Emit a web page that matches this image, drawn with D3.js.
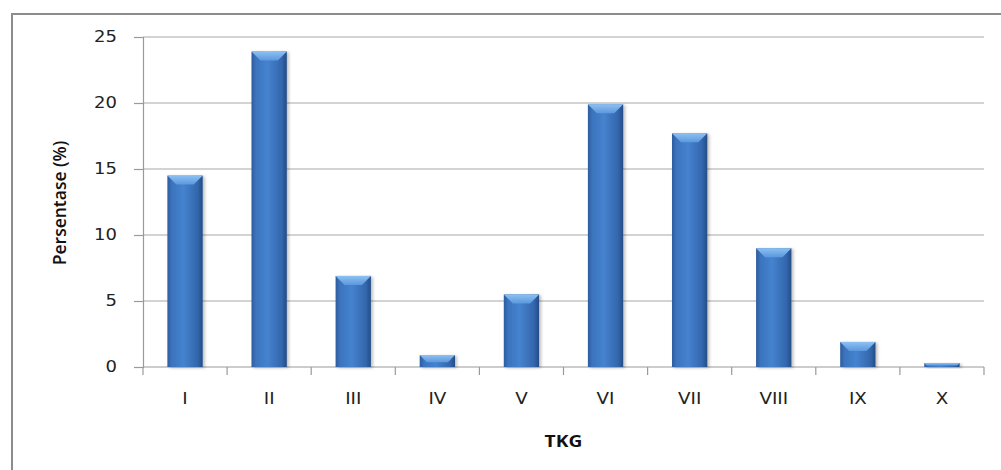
<!DOCTYPE html>
<html>
<head>
<meta charset="utf-8">
<script src="https://cdn.jsdelivr.net/npm/d3@7"></script>
<style>
  body { margin: 0; background: #fff; }
  svg { display: block; }
</style>
</head>
<body>
<script>
// data
var categories = ["I", "II", "III", "IV", "V", "VI", "VII", "VIII", "IX", "X"];
var values = [14.5, 23.9, 6.9, 0.9, 5.5, 19.9, 17.7, 9.0, 1.9, 0.3];
var yTicks = [0, 5, 10, 15, 20, 25];

var width = 1001, height = 470;
var plotLeft = 143, plotRight = 984, plotTop = 37, plotBottom = 367;

var svg = d3.select("body").append("svg")
    .attr("width", width)
    .attr("height", height);

var defs = svg.append("defs");
var grad = defs.append("linearGradient").attr("id", "barGrad")
    .attr("x1", "0%").attr("x2", "100%").attr("y1", "0%").attr("y2", "0%");
grad.append("stop").attr("offset", "0%").attr("stop-color", "#2c5c9e");
grad.append("stop").attr("offset", "12%").attr("stop-color", "#3b73bd");
grad.append("stop").attr("offset", "45%").attr("stop-color", "#4583cf");
grad.append("stop").attr("offset", "85%").attr("stop-color", "#3467ad");
grad.append("stop").attr("offset", "100%").attr("stop-color", "#234d86");

var bevel = defs.append("linearGradient").attr("id", "bevelGrad")
    .attr("x1", "0%").attr("x2", "0%").attr("y1", "0%").attr("y2", "100%");
bevel.append("stop").attr("offset", "0%").attr("stop-color", "#8ec0f2");
bevel.append("stop").attr("offset", "100%").attr("stop-color", "#5a98de");

var shadow = defs.append("filter").attr("id", "shadow")
    .attr("x", "-20%").attr("y", "-20%").attr("width", "150%").attr("height", "150%");
shadow.append("feDropShadow").attr("dx", 2).attr("dy", 1)
    .attr("stdDeviation", 1.5).attr("flood-color", "#000").attr("flood-opacity", 0.25);

// outer frame (only left and top edges are visible)
svg.append("rect")
    .attr("x", 12).attr("y", 14)
    .attr("width", 1100).attr("height", 600)
    .attr("fill", "none")
    .attr("stroke", "#8c8c8c")
    .attr("stroke-width", 2);

var x = d3.scaleBand().domain(categories).range([plotLeft, plotRight]).padding(0);
var y = d3.scaleLinear().domain([0, 25]).range([plotBottom, plotTop]);

// gridlines
svg.append("g").selectAll("line").data(yTicks.filter(function (d) { return d > 0; }))
  .join("line")
    .attr("x1", plotLeft).attr("x2", plotRight)
    .attr("y1", function (d) { return y(d); })
    .attr("y2", function (d) { return y(d); })
    .attr("stroke", "#a8a8a8")
    .attr("stroke-width", 1.2);

// y axis
var yAxis = d3.axisLeft(y).tickValues(yTicks).tickSize(9).tickPadding(17);
var gy = svg.append("g").attr("transform", "translate(" + plotLeft + ",0)").call(yAxis);
gy.select(".domain").attr("stroke", "#9a9a9a").attr("stroke-width", 1.2);
gy.selectAll(".tick line").attr("stroke", "#9a9a9a").attr("stroke-width", 1.2);
gy.selectAll(".tick text")
    .attr("font-family", "DejaVu Sans")
    .attr("font-size", 15)
    .attr("fill", "#222")
    .attr("text-anchor", "end")
    .attr("x", 0)
    .attr("transform", "translate(-26,0) scale(1.2,1)");

// x axis labels
var xAxis = d3.axisBottom(x).tickSize(0).tickPadding(26);
var gx = svg.append("g").attr("transform", "translate(0," + plotBottom + ")").call(xAxis);
gx.select(".domain").remove();
gx.selectAll(".tick text")
    .attr("font-family", "DejaVu Sans")
    .attr("font-size", 15)
    .attr("fill", "#222")
    .attr("transform", "scale(1.22,1)");

svg.append("line")
    .attr("x1", plotLeft).attr("x2", plotRight)
    .attr("y1", plotBottom).attr("y2", plotBottom)
    .attr("stroke", "#9a9a9a").attr("stroke-width", 1.2);

// boundary ticks between categories
var bounds = categories.map(function (c) { return x(c); }).concat([plotRight]);
svg.append("g").selectAll("line").data(bounds).join("line")
    .attr("x1", function (d) { return d; })
    .attr("x2", function (d) { return d; })
    .attr("y1", plotBottom).attr("y2", plotBottom + 8)
    .attr("stroke", "#9a9a9a").attr("stroke-width", 1.2);

// bars
var barW = x.bandwidth() * 0.42;
var bars = svg.append("g").selectAll("g").data(values).join("g")
    .attr("filter", "url(#shadow)");

bars.append("rect")
    .attr("x", function (d, i) { return x(categories[i]) + (x.bandwidth() - barW) / 2; })
    .attr("y", function (d) { return y(d); })
    .attr("width", barW)
    .attr("height", function (d) { return y(0) - y(d); })
    .attr("fill", "url(#barGrad)");

bars.append("path")
    .attr("d", function (d, i) {
      var x0 = x(categories[i]) + (x.bandwidth() - barW) / 2;
      var x1 = x0 + barW;
      var t = y(d);
      var h = Math.min(9, (y(0) - y(d)) * 0.6);
      var inset = Math.min(9, h);
      return "M" + x0 + "," + t + "L" + x1 + "," + t +
             "L" + (x1 - inset) + "," + (t + h) + "L" + (x0 + inset) + "," + (t + h) + "Z";
    })
    .attr("fill", "url(#bevelGrad)");

// axis titles
svg.append("text")
    .attr("transform", "translate(66,203) rotate(-90)")
    .attr("text-anchor", "middle")
    .attr("font-family", "Open Sans")
    .attr("font-weight", 600)
    .attr("font-size", 17.5)
    .attr("fill", "#111")
    .text("Persentase (%)");

svg.append("text")
    .attr("transform", "translate(" + ((plotLeft + plotRight) / 2) + ",447) scale(1.2,1)")
    .attr("text-anchor", "middle")
    .attr("font-family", "Open Sans")
    .attr("font-weight", 700)
    .attr("font-size", 16)
    .attr("fill", "#111")
    .text("TKG");
</script>
</body>
</html>
